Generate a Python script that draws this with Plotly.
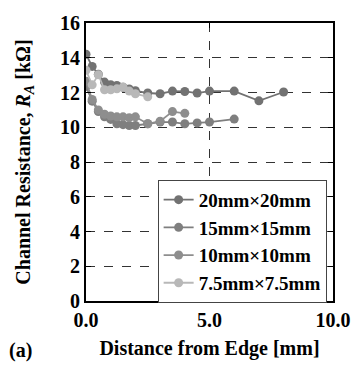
import plotly.graph_objects as go

x20 = [0, 0.25, 0.5, 0.75, 1.0, 1.25, 1.5, 1.75, 2.0, 2.5, 3.0, 3.5, 4.0, 4.5, 5.0, 6.0, 7.0, 8.0]
y20 = [14.2, 13.5, 13.05, 12.6, 12.45, 12.4, 12.3, 12.2, 12.1, 11.97, 11.93, 12.08, 12.06, 11.97, 12.08, 12.08, 11.52, 12.03]

x15 = [0, 0.25, 0.5, 0.75, 1.0, 1.25, 1.5, 1.75, 2.0, 2.5, 3.0, 3.5, 4.0, 4.5, 5.0, 6.0]
y15 = [12.35, 11.5, 10.9, 10.6, 10.45, 10.2, 10.15, 10.1, 10.1, 10.2, 10.3, 10.3, 10.2, 10.25, 10.3, 10.47]

x10 = [0, 0.25, 0.5, 0.75, 1.0, 1.25, 1.5, 1.75, 2.0, 2.5, 3.0, 3.5, 4.0]
y10 = [12.65, 11.6, 11.0, 10.75, 10.65, 10.6, 10.6, 10.55, 10.6, 10.2, 10.35, 10.9, 10.8]

x75 = [0, 0.25, 0.5, 0.75, 1.0, 1.25, 1.5, 1.75, 2.0, 2.5]
y75 = [13.28, 12.44, 13.02, 12.16, 12.16, 12.21, 12.31, 12.08, 11.93, 11.75]

names = ["20mm×20mm", "15mm×15mm", "10mm×10mm", "7.5mm×7.5mm"]
colors = ["#727272", "#7f7f7f", "#8e8e8e", "#b8b8b8"]
series = [(x20, y20), (x15, y15), (x10, y10), (x75, y75)]

FONT = "Liberation Serif"

fig = go.Figure()
for (xs, ys), n, c in zip(series, names, colors):
    fig.add_trace(go.Scatter(
        x=xs, y=ys, name=n, mode="lines+markers",
        line=dict(color=c, width=1.8),
        marker=dict(color=c, size=9),
    ))

axis_common = dict(
    showline=True, linecolor="black", linewidth=2, mirror="ticks",
    ticks="inside", ticklen=5, tickcolor="black", tickwidth=1,
    showgrid=True, gridcolor="#333333", griddash="dash", gridwidth=1,
    zeroline=False,
    tickfont=dict(family=FONT, size=20, color="black", weight="bold"),
)

fig.update_layout(
    width=363, height=368,
    margin=dict(l=86, r=19, t=18, b=66),
    plot_bgcolor="white", paper_bgcolor="white",
    showlegend=True,
    legend=dict(
        x=0.29, y=0.436, xanchor="left", yanchor="top",
        bgcolor="white", bordercolor="#444444", borderwidth=1,
        font=dict(family=FONT, size=19, color="black", weight="bold"),
        itemwidth=30, tracegroupgap=0,
    ),
    xaxis=dict(range=[0, 10], tickvals=[0, 5, 10], ticktext=["0.0", "5.0", "10.0"],
               title=dict(text="Distance from Edge [mm]", standoff=11,
                          font=dict(family=FONT, size=20, color="black", weight="bold")),
               **axis_common),
    yaxis=dict(range=[0, 16], dtick=2,
               title=dict(text="Channel Resistance, <i>R</i><sub><i>A</i></sub> [kΩ]", standoff=24,
                          font=dict(family=FONT, size=20, color="black", weight="bold")),
               **axis_common),
    annotations=[dict(text="(a)", x=-0.32, y=-0.177, xref="paper", yref="paper",
                      xanchor="left", yanchor="middle", showarrow=False,
                      font=dict(family=FONT, size=20, color="black", weight="bold"))],
)

fig.write_html("out.html")
